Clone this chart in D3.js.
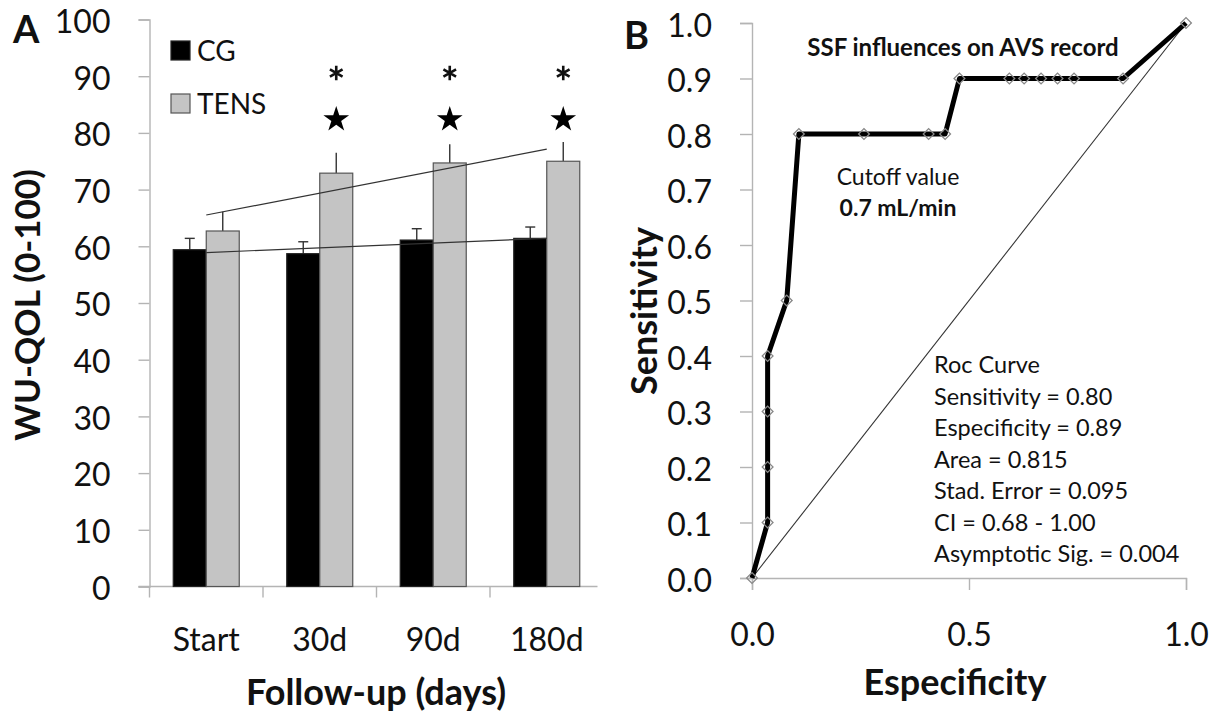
<!DOCTYPE html>
<html><head><meta charset="utf-8">
<script src="https://cdn.jsdelivr.net/npm/d3@7"></script>
<style>
body{margin:0;background:#fff}
svg{display:block}
text{font-family:Lato,"Open Sans",sans-serif;fill:#111}
</style>
</head><body>
<svg id="chart" width="1228" height="720"></svg>
<script>
// ---------- Panel A data ----------
const categories = ["Start", "30d", "90d", "180d"];
const seriesNames = ["CG", "TENS"];
const cgMean = [59.4, 58.7, 61.1, 61.4];
const cgSE = [2.0, 2.1, 2.0, 2.0];
const tensMean = [62.7, 72.9, 74.7, 75.0];
const tensSE = [3.4, 3.6, 3.3, 3.4];
const significant = [false, true, true, true];
const yTicksA = [0, 10, 20, 30, 40, 50, 60, 70, 80, 90, 100];

// ---------- Panel B data ----------
const rocX = [0, 0.036, 0.036, 0.036, 0.036, 0.08, 0.108, 0.258, 0.407, 0.445, 0.478, 0.593, 0.627, 0.666, 0.704, 0.742, 0.855, 1.0];
const rocY = [0, 0.1, 0.2, 0.3, 0.4, 0.5, 0.8, 0.8, 0.8, 0.8, 0.9, 0.9, 0.9, 0.9, 0.9, 0.9, 0.9, 1.0];
const yTicksB = [0, 0.1, 0.2, 0.3, 0.4, 0.5, 0.6, 0.7, 0.8, 0.9, 1.0];
const xTicksB = [0, 0.5, 1.0];
const rocStats = ["Roc Curve", "Sensitivity = 0.80", "Especificity = 0.89", "Area = 0.815",
  "Stad. Error = 0.095", "CI = 0.68 - 1.00", "Asymptotic Sig. = 0.004"];

const svg = d3.select("#chart");
const axisColor = "#b4b4b4";

// ================= PANEL A =================
const xA = d3.scaleBand().domain(categories).range([149.5, 603.5]).paddingInner(0).paddingOuter(0);
const xInner = d3.scaleBand().domain(seriesNames).range([0, xA.bandwidth()]).paddingInner(0).paddingOuter(0.72);
const yA = d3.scaleLinear().domain([0, 100]).range([586.5, 19.5]);

const gA = svg.append("g");

// y axis
const yAxA = gA.append("g").attr("transform", `translate(${xA.range()[0]},0)`)
  .call(d3.axisLeft(yA).tickValues(yTicksA).tickSize(11).tickPadding(28));
yAxA.select(".domain").attr("stroke", axisColor).attr("stroke-width", 1.4);
yAxA.selectAll(".tick line").attr("stroke", axisColor).attr("stroke-width", 1.4);
yAxA.selectAll(".tick text").style("font-family", "Lato").style("font-size", "32px").attr("fill", "#111").attr("dy", "0.4em");

// x axis
const xAxA = gA.append("g").attr("transform", `translate(0,${yA(0)})`)
  .call(d3.axisBottom(xA).tickSize(0).tickPadding(42));
xAxA.select(".domain").attr("d", `M${xA.range()[0] - 11},0H${xA.range()[1] - 6}`)
  .attr("stroke", axisColor).attr("stroke-width", 1.4);
xAxA.selectAll(".tick text").style("font-family", "Lato").style("font-size", "32px").attr("fill", "#111");
gA.append("g").selectAll("line").data(categories).join("line")
  .attr("x1", d => xA(d)).attr("x2", d => xA(d))
  .attr("y1", yA(0)).attr("y2", yA(0) + 11)
  .attr("stroke", axisColor).attr("stroke-width", 1.4);

// bars
const seriesData = [
  {name: "CG", mean: cgMean, se: cgSE, fill: "#000", stroke: "#222", cap: true},
  {name: "TENS", mean: tensMean, se: tensSE, fill: "#c4c4c4", stroke: "#555", cap: false}
];
seriesData.forEach(s => {
  const g = gA.append("g");
  const rows = categories.map((c, i) => ({c, v: s.mean[i], e: s.se[i]}));
  g.selectAll("line.err").data(rows).join("line").attr("class", "err")
    .attr("x1", d => xA(d.c) + xInner(s.name) + xInner.bandwidth() / 2)
    .attr("x2", d => xA(d.c) + xInner(s.name) + xInner.bandwidth() / 2)
    .attr("y1", d => yA(d.v)).attr("y2", d => yA(d.v + d.e))
    .attr("stroke", "#333").attr("stroke-width", 1.4);
  if (s.cap) {
    g.selectAll("line.cap").data(rows).join("line").attr("class", "cap")
      .attr("x1", d => xA(d.c) + xInner(s.name) + xInner.bandwidth() / 2 - 5)
      .attr("x2", d => xA(d.c) + xInner(s.name) + xInner.bandwidth() / 2 + 5)
      .attr("y1", d => yA(d.v + d.e)).attr("y2", d => yA(d.v + d.e))
      .attr("stroke", "#333").attr("stroke-width", 1.4);
  }
  g.selectAll("rect").data(rows).join("rect")
    .attr("x", d => xA(d.c) + xInner(s.name))
    .attr("width", xInner.bandwidth())
    .attr("y", d => yA(d.v))
    .attr("height", d => yA(0) - yA(d.v))
    .attr("fill", s.fill).attr("stroke", s.stroke).attr("stroke-width", 1.2);
});

// linear trend lines (least squares over category index)
function trend(vals) {
  const n = vals.length, xs = d3.range(n);
  const mx = d3.mean(xs), my = d3.mean(vals);
  const slope = d3.sum(xs, (x, i) => (x - mx) * (vals[i] - my)) / d3.sum(xs, x => (x - mx) ** 2);
  return x => my + slope * (x - mx);
}
[cgMean, tensMean].forEach(vals => {
  const f = trend(vals);
  const n = vals.length;
  gA.append("line")
    .attr("x1", xA(categories[0]) + xA.bandwidth() / 2)
    .attr("x2", xA(categories[n - 1]) + xA.bandwidth() / 2)
    .attr("y1", yA(f(0))).attr("y2", yA(f(n - 1)))
    .attr("stroke", "#333").attr("stroke-width", 1.2);
});

// significance markers
const sigCats = categories.filter((c, i) => significant[i]);
const starSym = d3.symbol().type(d3.symbolStar).size(205);
const astSym = d3.symbol().type(d3.symbolAsterisk).size(150);
gA.append("g").selectAll("path").data(sigCats).join("path")
  .attr("transform", d => `translate(${xA(d) + xInner("TENS") + xInner.bandwidth() / 2},119.5)`)
  .attr("d", starSym).attr("fill", "#000");
gA.append("g").selectAll("path").data(sigCats).join("path")
  .attr("transform", d => `translate(${xA(d) + xInner("TENS") + xInner.bandwidth() / 2},73)`)
  .attr("d", astSym).attr("fill", "none").attr("stroke", "#111").attr("stroke-width", 2.6);

// legend
const legend = gA.append("g");
seriesData.forEach((s, i) => {
  legend.append("rect").attr("x", 171).attr("y", 41 + i * 53).attr("width", 19).attr("height", 19)
    .attr("fill", s.fill).attr("stroke", s.stroke).attr("stroke-width", 1.2);
  legend.append("text").attr("x", 197).attr("y", 51 + i * 53).attr("dy", "0.36em")
    .style("font-size", "28px").text(s.name);
});

// titles
gA.append("text").attr("x", 13).attr("y", 43).style("font-size", "38px").style("font-weight", "bold").text("A");
gA.append("text").attr("transform", `translate(40,305) rotate(-90)`)
  .attr("text-anchor", "middle").style("font-size", "35px").style("font-weight", "bold").text("WU-QOL (0-100)");
gA.append("text").attr("x", 376).attr("y", 705).attr("text-anchor", "middle")
  .style("font-size", "36px").style("font-weight", "bold").text("Follow-up (days)");

// ================= PANEL B =================
const xB = d3.scaleLinear().domain([0, 1]).range([752, 1186]);
const yB = d3.scaleLinear().domain([0, 1]).range([578, 23]);
const gB = svg.append("g");

const yAxB = gB.append("g").attr("transform", `translate(${xB(0)},0)`)
  .call(d3.axisLeft(yB).tickValues(yTicksB).tickFormat(d3.format(".1f")).tickSize(12).tickPadding(28));
yAxB.select(".domain").attr("stroke", axisColor).attr("stroke-width", 1.4);
yAxB.selectAll(".tick line").attr("stroke", axisColor).attr("stroke-width", 1.4);
yAxB.selectAll(".tick text").style("font-family", "Lato").style("font-size", "32px").attr("fill", "#111").attr("dy", "0.42em");

const xAxB = gB.append("g").attr("transform", `translate(0,${yB(0)})`)
  .call(d3.axisBottom(xB).tickValues(xTicksB).tickFormat(d3.format(".1f")).tickSize(12).tickPadding(33));
xAxB.select(".domain").attr("stroke", axisColor).attr("stroke-width", 1.4);
xAxB.selectAll(".tick line").attr("stroke", axisColor).attr("stroke-width", 1.4);
xAxB.selectAll(".tick text").style("font-family", "Lato").style("font-size", "32px").attr("fill", "#111");

// diagonal reference
gB.append("line").attr("x1", xB(0)).attr("y1", yB(0)).attr("x2", xB(1)).attr("y2", yB(1))
  .attr("stroke", "#333").attr("stroke-width", 1.1);

// ROC curve
const rocPts = rocX.map((x, i) => [x, rocY[i]]);
gB.append("path").datum(rocPts)
  .attr("d", d3.line().x(d => xB(d[0])).y(d => yB(d[1])))
  .attr("fill", "none").attr("stroke", "#000").attr("stroke-width", 5).attr("stroke-linejoin", "round");
const diamond = d3.symbol().type(d3.symbolSquare).size(58);
gB.append("g").selectAll("path").data(rocPts).join("path")
  .attr("transform", d => `translate(${xB(d[0])},${yB(d[1])}) rotate(45)`)
  .attr("d", diamond).attr("fill", "none").attr("stroke", "#888").attr("stroke-width", 1.3);

// annotations
gB.append("text").attr("x", 963).attr("y", 47).attr("dy", "0.36em").attr("text-anchor", "middle")
  .style("font-size", "24px").style("font-weight", "bold").text("SSF influences on AVS record");
gB.append("text").attr("x", 898).attr("y", 177).attr("dy", "0.36em").attr("text-anchor", "middle")
  .style("font-size", "23px").text("Cutoff value");
gB.append("text").attr("x", 898).attr("y", 208).attr("dy", "0.36em").attr("text-anchor", "middle")
  .style("font-size", "23px").style("font-weight", "bold").text("0.7 mL/min");
gB.append("g").selectAll("text").data(rocStats).join("text")
  .attr("x", 934).attr("y", (d, i) => 365 + i * 31.5).attr("dy", "0.36em")
  .style("font-size", "23.5px").text(d => d);

gB.append("text").attr("x", 624).attr("y", 49).style("font-size", "38px").style("font-weight", "bold").text("B");
gB.append("text").attr("transform", `translate(657,311) rotate(-90)`)
  .attr("text-anchor", "middle").style("font-size", "36px").style("font-weight", "bold").text("Sensitivity");
gB.append("text").attr("x", 955).attr("y", 695).attr("text-anchor", "middle")
  .style("font-size", "36px").style("font-weight", "bold").text("Especificity");
</script>
</body></html>
